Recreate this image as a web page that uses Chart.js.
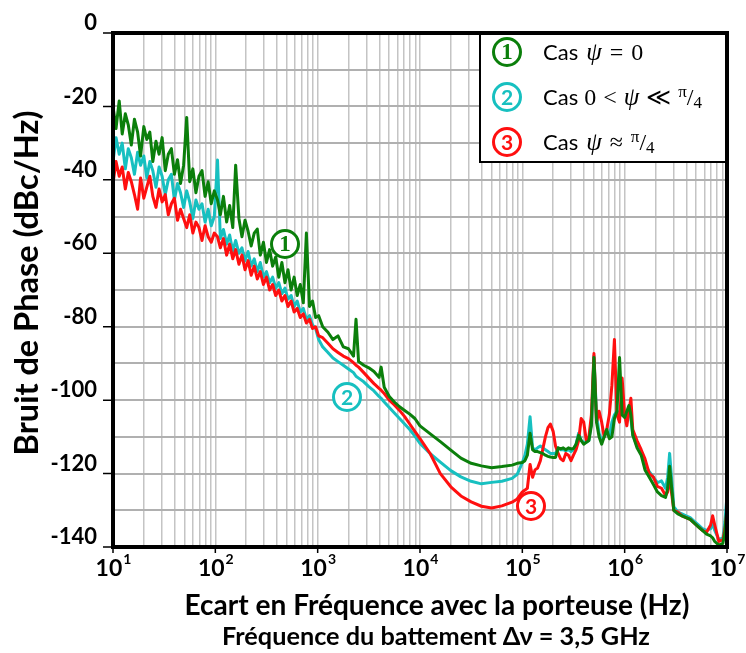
<!DOCTYPE html>
<html>
<head>
<meta charset="utf-8">
<script src="https://cdn.jsdelivr.net/npm/chart.js@4.4.0/dist/chart.umd.min.js"></script>
<style>
html, body { margin: 0; padding: 0; background: #fff; }
canvas { display: block; }
</style>
</head>
<body>
<canvas id="bruitChart" width="746" height="653"></canvas>
<script>
// Frequences d'ecart (Hz), grille commune aux trois courbes
const freqHz = [
	10, 10.7, 11.5, 12.3, 13.2, 14.1, 15.1, 16.2, 17.4, 18.6, 20, 21.4, 22.9, 24.5, 26.3, 28.2, 30.2,
	32.4, 34.7, 37.2, 39.8, 42.7, 45.7, 49, 52.5, 56.2, 60.3, 64.6, 69.2, 74.1, 79.4, 85.1, 91.2, 97.7,
	105, 112, 120, 129, 138, 148, 158, 170, 182, 195, 209, 224, 240, 257, 275, 295, 316,
	339, 363, 389, 417, 447, 479, 513, 550, 589, 631, 676, 724, 776, 832, 891, 955, 1023,
	1120, 1260, 1410, 1580, 1780, 2000, 2240, 2370, 2510, 2820, 3160, 3550, 3980, 4170, 4470, 5010, 5620, 6310, 7080, 7940, 8910,
	10000, 12600, 15800, 20000, 25100, 31600, 39800, 50100, 63100, 79400, 89100,
	1e5, 1.06e5, 1.12e5, 1.19e5, 1.26e5, 1.33e5, 1.41e5, 1.5e5, 1.58e5, 1.68e5, 1.78e5, 1.88e5, 2e5, 2.11e5,
	2.24e5, 2.37e5, 2.51e5, 2.66e5, 2.82e5, 2.99e5, 3.16e5, 3.35e5, 3.55e5, 3.76e5, 3.98e5, 4.22e5, 4.47e5, 4.73e5,
	5.01e5, 5.31e5, 5.62e5, 5.96e5, 6.31e5, 6.68e5, 7.08e5, 7.5e5, 7.94e5, 8.41e5, 8.91e5, 9.44e5, 1e6,
	1.05e6, 1.1e6, 1.15e6, 1.2e6, 1.32e6, 1.45e6, 1.58e6, 1.74e6, 1.91e6, 2.09e6, 2.29e6, 2.51e6, 2.63e6, 2.75e6, 3.02e6,
	3.31e6, 3.63e6, 3.98e6, 4.37e6, 4.79e6, 5.25e6, 5.75e6, 6.31e6, 6.92e6, 7.24e6, 7.59e6, 8.32e6, 9.12e6, 9.55e6, 1e7
];

// Cas 1 : psi = 0 (vert)
const phaseCas1 = [
	-20, -26, -18.5, -27.5, -22, -25, -30.5, -23.5, -27, -33.5, -25.5, -29, -27, -35, -29.5, -33, -28.5,
	-37.5, -33, -31.5, -38.5, -34.5, -41, -36, -23, -40.5, -37, -43.5, -39, -37.5, -44.5, -40.5, -46.5, -43,
	-45.5, -49.5, -44.5, -51.5, -47, -53, -36, -50.5, -55.5, -51, -54, -58, -54.5, -53.4, -60.5, -57, -62.5,
	-59, -63.5, -61, -66.5, -62.5, -68, -64.5, -70, -66.5, -71.5, -68.5, -73.5, -54.5, -74.5, -73, -77.5, -77,
	-80, -81.5, -83.5, -82.5, -85.5, -86, -88, -78, -89.5, -90.5, -91.2, -92.2, -93.8, -91, -96.5, -99, -100.5, -101.8, -102.8, -103.8, -105,
	-107, -109.2, -111.3, -113.6, -115.8, -117.2, -117.9, -118.4, -118.1, -117.7, -117.2,
	-117, -116.5, -115, -109, -113.5, -114, -114, -114.3, -114.5, -115, -115.3, -115.5, -115.6, -115.6,
	-113, -113.3, -113, -113.5, -113, -113.3, -113.2, -112, -109.6, -111, -112, -111.5, -111, -107,
	-88.4, -106, -110, -112, -110, -108, -110.5, -110, -105, -103, -88.4, -104, -104.7,
	-103, -101.5, -104, -109.5, -113, -115, -119, -121, -123, -125, -126, -126.5, -124, -118, -130,
	-131, -131.5, -132, -132.5, -133.5, -134.5, -135.5, -136.5, -137, -137.5, -138.5, -139.5, -139, -136, -129
];

// Cas 2 : 0 < psi << pi/4 (cyan)
const phaseCas2 = [
	-35, -28.5, -33, -30, -37, -31.5, -34, -38.5, -32.5, -36, -33.5, -39.5, -35, -37.5, -42, -36.5, -39,
	-44, -40, -38.5, -45.5, -41, -43.5, -47.5, -43, -46, -50.5, -45.5, -48, -46.5, -51.5, -48, -52.5, -50,
	-34.6, -56, -53.5, -57.5, -55, -59.5, -56.5, -60, -58.5, -62, -59.5, -63.5, -61.5, -65, -62.5, -66.5, -65,
	-68, -66.5, -69.5, -68, -71, -69.5, -72.5, -71.5, -74.5, -73, -76, -75, -78, -77, -79.5, -80.5, -83.5,
	-85.5, -87, -88.5, -89.5, -90.5, -91.5, -92.5, -93.5, -94, -95, -96.3, -97.5, -99, -99.5, -100.5, -102, -103.5, -105, -106.5, -108, -109.8,
	-111.8, -114.6, -116.9, -119.2, -120.9, -122.1, -122.8, -122.4, -122.1, -121.3, -120.2,
	-117, -115, -112, -104.5, -113, -113.5, -113, -112.5, -113, -113.5, -114, -114.5, -114.5, -114.5,
	-113, -113.5, -113.5, -113.8, -113.5, -114, -113.5, -112, -109, -111, -111.5, -111.5, -111, -106,
	-88, -104, -109, -111, -110, -108.5, -110, -106, -104, -103, -103.5, -104, -104.5,
	-104, -102.5, -105, -109.5, -112.5, -114, -117.5, -119.5, -121, -122.5, -122, -124, -121, -114.5, -129,
	-130.5, -131, -131.5, -132, -133, -134, -135, -135.5, -135, -133.5, -135.5, -138, -137.5, -133, -126
];

// Cas 3 : psi ~ pi/4 (rouge)
const phaseCas3 = [
	-41, -35, -39, -36.5, -42.5, -38, -40.5, -44, -48, -39.5, -45, -42, -39, -44.5, -47.5, -42.5, -46,
	-44, -49.5, -46.5, -45, -51, -48, -50.5, -53, -49.5, -54.5, -51.5, -53, -56.5, -52.5, -55.5, -57, -54.5,
	-55.5, -58.5, -56, -60.5, -57.5, -61.5, -59, -63, -60.5, -64.5, -62, -66, -63.5, -67, -65, -68.5, -66.5,
	-70, -68.5, -71.5, -70, -73, -71.5, -74.5, -73, -76, -75, -77.5, -76.5, -79, -78, -80.5, -80, -82.5,
	-83, -84.5, -86, -87, -88, -88.7, -89.8, -90.5, -91, -92.5, -94, -95.5, -96.8, -97.3, -98.2, -100, -101.3, -102.8, -104.5, -106.5, -108.5,
	-110.5, -114.6, -120, -123.6, -126.1, -127.7, -128.9, -129.4, -128.8, -127.8, -126.9,
	-125, -124.5, -124, -117.5, -121, -119, -118.5, -116.5, -113.5, -110, -107.5, -106.5, -108.5, -112.5,
	-114.5, -116, -116.5, -114.5, -115, -116.5, -115, -113.5, -111, -105, -106, -111, -110, -104,
	-87.3, -106, -103, -106, -110, -108, -104, -96, -83.5, -104, -106, -94, -104,
	-107, -103, -99.5, -108, -111, -113.5, -116, -120, -121, -123.5, -124, -126, -125, -121, -130,
	-130.5, -131.5, -132, -132.5, -133.5, -134.5, -135.5, -136, -134, -131.5, -134, -138.5, -138, -135, -130
];

// Axes
const decadeExponents = [1, 2, 3, 4, 5, 6, 7];
const yLabelValues = [0, -20, -40, -60, -80, -100, -120, -140];

// Couleurs des courbes
const colCas1 = '#0b7f0b';
const colCas2 = '#17c0c0';
const colCas3 = '#ff0f0f';

const SANS = "Lato, 'Open Sans', sans-serif";
const SERIF = "'Liberation Serif', 'DejaVu Serif', serif";

// Lignes verticales de la grille log : 1..9 x 10^n
const gridFreqs = [];
decadeExponents.forEach(function(e) {
	for (let m = 1; m <= 9; m++) {
		if (e === 7 && m > 1) break;
		gridFreqs.push(m * Math.pow(10, e));
	}
});

function makeSeries(values, color) {
	return {
		data: freqHz.map((f, i) => ({ x: f, y: values[i] })),
		borderColor: color,
		borderWidth: 3,
		pointRadius: 0,
		tension: 0,
		borderJoinStyle: 'round',
		fill: false
	};
}

// taille de police pour qu'un texte occupe une largeur donnee
function fitSize(ctx, text, weight, family, width) {
	ctx.font = weight + ' 100px ' + family;
	return 100 * width / ctx.measureText(text).width;
}

// morceaux de texte mis bout a bout (gap = espace en px)
function drawParts(ctx, x, y, parts) {
	parts.forEach(function(p) {
		if (p.gap) { x += p.gap; return; }
		ctx.font = p.font;
		ctx.fillText(p.t, x, y + (p.dy || 0));
		x += ctx.measureText(p.t).width;
	});
}

function circledNumber(ctx, cx, cy, txt, color, font) {
	ctx.beginPath();
	ctx.arc(cx, cy, 13.5, 0, Math.PI * 2);
	ctx.fillStyle = '#fff';
	ctx.fill();
	ctx.lineWidth = 3;
	ctx.strokeStyle = color;
	ctx.stroke();
	ctx.fillStyle = color;
	ctx.font = font;
	ctx.textAlign = 'center';
	ctx.textBaseline = 'middle';
	ctx.fillText(txt, cx, cy + 1);
}

const M = '24px ' + SERIF;
const MI = 'italic 25px ' + SERIF;
const piQuart = [
	{ t: 'π', font: '17px ' + SERIF, dy: -8 },
	{ t: '/', font: '24px ' + SERIF },
	{ t: '4', font: '17px ' + SERIF, dy: 3 }
];
const legendRows = [
	{ num: '1', color: colCas1, numFont: 'bold 23px ' + SERIF,
	  parts: [{ t: 'Cas', font: '22px ' + SANS }, { gap: 8 }, { t: 'ψ', font: MI }, { gap: 8 }, { t: '=', font: M }, { gap: 8 }, { t: '0', font: M }] },
	{ num: '2', color: colCas2, numFont: 'bold 21px ' + SANS,
	  parts: [{ t: 'Cas', font: '22px ' + SANS }, { gap: 6 }, { t: '0', font: M }, { gap: 7 }, { t: '<', font: M }, { gap: 7 },
	          { t: 'ψ', font: MI }, { gap: 7 }, { t: '≪', font: M }, { gap: 7 }].concat(piQuart) },
	{ num: '3', color: colCas3, numFont: 'bold 21px ' + SANS,
	  parts: [{ t: 'Cas', font: '22px ' + SANS }, { gap: 8 }, { t: 'ψ', font: MI }, { gap: 8 }, { t: '≈', font: M }, { gap: 8 }].concat(piQuart) }
];

const decorPlugin = {
	id: 'decor',
	afterDraw: function(chart) {
		const ctx = chart.ctx;
		const a = chart.chartArea;
		const xs = chart.scales.x;
		const ys = chart.scales.y;
		ctx.save();

		// cadre de la legende
		ctx.fillStyle = '#fff';
		ctx.fillRect(480, a.top, a.right - 480, 129);
		ctx.strokeStyle = '#000';
		ctx.lineWidth = 2;
		ctx.strokeRect(480, a.top, a.right - 480, 129);
		legendRows.forEach(function(row, i) {
			const cy = 52 + i * 45;
			circledNumber(ctx, 507, cy, row.num, row.color, row.numFont);
			ctx.fillStyle = '#000';
			ctx.textAlign = 'left';
			ctx.textBaseline = 'alphabetic';
			drawParts(ctx, 543, cy + 8, row.parts);
		});

		// reperes sur les courbes
		circledNumber(ctx, 285, 244, '1', colCas1, 'bold 23px ' + SERIF);
		circledNumber(ctx, 347, 397, '2', colCas2, 'bold 21px ' + SANS);
		circledNumber(ctx, 531, 506, '3', colCas3, 'bold 21px ' + SANS);

		// cadre du trace
		ctx.strokeStyle = '#000';
		ctx.lineWidth = 4;
		ctx.strokeRect(a.left, a.top, a.right - a.left, a.bottom - a.top);

		// petites graduations
		ctx.lineWidth = 1.5;
		ctx.beginPath();
		yLabelValues.forEach(function(v) {
			const y = ys.getPixelForValue(v);
			ctx.moveTo(a.left - 10, y);
			ctx.lineTo(a.left, y);
		});
		decadeExponents.forEach(function(e) {
			const x = xs.getPixelForValue(Math.pow(10, e));
			ctx.moveTo(x, a.bottom);
			ctx.lineTo(x, a.bottom + 6);
		});
		ctx.stroke();

		// etiquettes 10^n
		ctx.fillStyle = '#000';
		ctx.textAlign = 'left';
		ctx.textBaseline = 'alphabetic';
		decadeExponents.forEach(function(e) {
			const x = xs.getPixelForValue(Math.pow(10, e));
			ctx.font = 'bold 23px ' + SANS;
			const wb = ctx.measureText('10').width;
			ctx.font = 'bold 14px ' + SANS;
			const we = ctx.measureText(String(e)).width;
			const x0 = x - (wb + we) / 2;
			ctx.font = 'bold 23px ' + SANS;
			ctx.fillText('10', x0, 576);
			ctx.font = 'bold 14px ' + SANS;
			ctx.fillText(String(e), x0 + wb + 1, 564);
		});

		// titres
		const xTitle = 'Ecart en Fréquence avec la porteuse (Hz)';
		const subTitle = 'Fréquence du battement Δν = 3,5 GHz';
		const yTitle = 'Bruit de Phase (dBc/Hz)';
		ctx.textAlign = 'center';
		ctx.textBaseline = 'middle';
		ctx.font = 'bold ' + fitSize(ctx, xTitle, 'bold', SANS, 505) + 'px ' + SANS;
		ctx.fillText(xTitle, 437, 606);
		ctx.font = 'bold ' + fitSize(ctx, subTitle, 'bold', SANS, 428) + 'px ' + SANS;
		ctx.fillText(subTitle, 436, 637);
		ctx.translate(28, 283);
		ctx.rotate(-Math.PI / 2);
		ctx.font = 'bold ' + fitSize(ctx, yTitle, 'bold', SANS, 345) + 'px ' + SANS;
		ctx.fillText(yTitle, 0, 0);
		ctx.restore();
	}
};

const ctx = document.getElementById('bruitChart').getContext('2d');
new Chart(ctx, {
	type: 'line',
	data: {
		// ordre : le premier jeu est dessine au-dessus
		datasets: [
			makeSeries(phaseCas1, colCas1),
			makeSeries(phaseCas3, colCas3),
			makeSeries(phaseCas2, colCas2)
		]
	},
	options: {
		responsive: false,
		animation: false,
		devicePixelRatio: 1,
		layout: { padding: { left: 0, top: 33, right: 19, bottom: 0 } },
		plugins: {
			legend: { display: false },
			tooltip: { enabled: false }
		},
		scales: {
			x: {
				type: 'logarithmic',
				min: 10,
				max: 1e7,
				afterBuildTicks: function(scale) {
					scale.ticks = gridFreqs.map(v => ({ value: v }));
				},
				afterFit: function(scale) { scale.height = 106; },
				ticks: { display: false },
				grid: { color: '#c4c4c4', lineWidth: 1.5, drawTicks: false },
				border: { display: false }
			},
			y: {
				min: -140,
				max: 0,
				afterFit: function(scale) { scale.width = 113; },
				ticks: {
					stepSize: 10,
					callback: function(v) { return v % 20 === 0 ? String(v) : ''; },
					font: { family: SANS, weight: 'bold', size: 22 },
					color: '#000',
					padding: 16,
					labelOffset: -10
				},
				grid: { color: '#b0b0b0', lineWidth: 2, drawTicks: false },
				border: { display: false }
			}
		}
	},
	plugins: [decorPlugin]
});
</script>
</body>
</html>
